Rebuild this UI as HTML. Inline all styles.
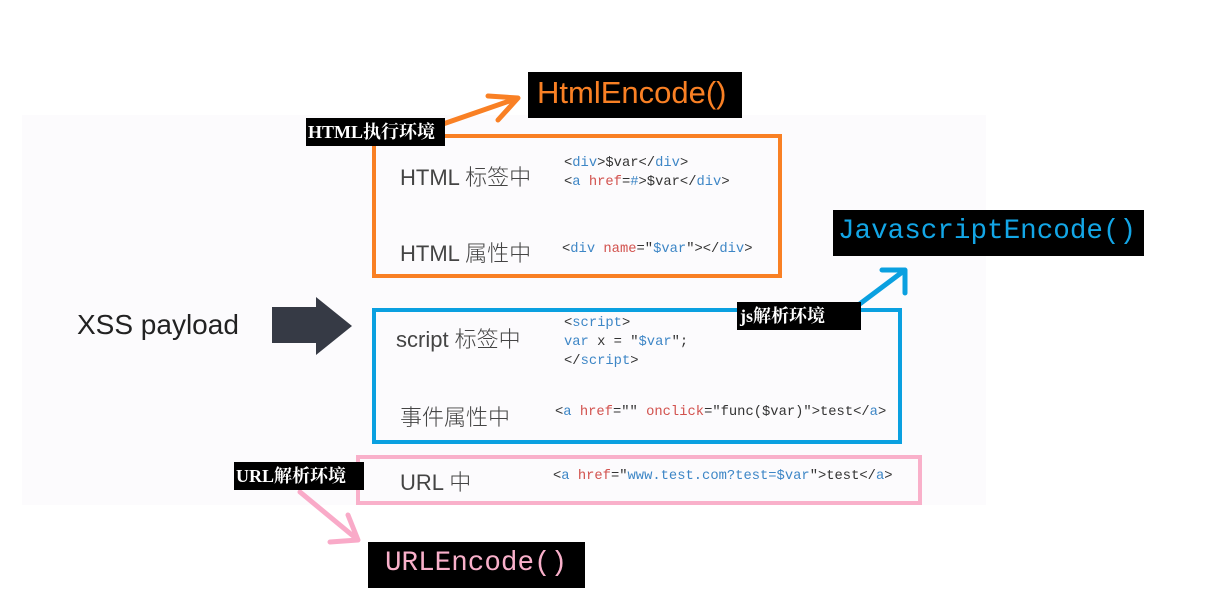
<!DOCTYPE html>
<html><head><meta charset="utf-8"><style>
body{margin:0;width:1206px;height:604px;background:#fff;position:relative;overflow:hidden;font-family:"Liberation Sans","Noto Sans CJK SC",sans-serif}
.a{position:absolute}
.panel{left:22px;top:115px;width:964px;height:390px;background:#fcfbfd}
.blk{background:#000;position:absolute}
.lbl{color:#fff;font-family:"Liberation Serif","Noto Serif CJK SC",serif;font-weight:bold;font-size:18px;line-height:28px;white-space:nowrap}
.hw{font-family:"Liberation Sans","Noto Sans CJK SC",sans-serif;color:#444;font-size:22px;font-weight:300;white-space:nowrap}
.code{font-family:"Liberation Mono","DejaVu Sans Mono",monospace;font-size:13.8px;color:#333;white-space:pre;line-height:19px}
.b{color:#3d86c6}.r{color:#d2524e}
.enc{font-family:"Liberation Mono",monospace;font-size:27.6px;line-height:38px}
</style></head><body>
<div class="a panel"></div>

<div class="a" style="left:77px;top:309px;font-size:28px;color:#222">XSS payload</div>
<svg class="a" style="left:0;top:0" width="1206" height="604">
<polygon points="272,307 316,307 316,297 352,326 316,355 316,343 272,343" fill="#363a45"/>
<g fill="none" stroke-width="5" stroke-linecap="round" stroke-linejoin="round">
<path d="M443,124 L518,98 M488,96 L518,98 L498,120" stroke="#f98024"/>
<path d="M857,306 L905,270 M882,270 L905,270 L905,293" stroke="#0aa0e0"/>
<path d="M300,492 L358,540 M330,542 L358,540 L348,515" stroke="#f9aac8"/>
</g>
</svg>

<div class="a" style="left:372px;top:134px;width:402px;height:136px;border:4px solid #f98024"></div>
<div class="a" style="left:372px;top:308px;width:522px;height:128px;border:4px solid #0aa0e0"></div>
<div class="a" style="left:356px;top:455px;width:558px;height:42px;border:4px solid #f9b0ca"></div>

<div class="blk" style="left:528px;top:72px;width:214px;height:46px"></div>
<div class="a" style="left:537px;top:74px;font-size:31px;color:#f98024;line-height:38px">HtmlEncode()</div>
<div class="blk" style="left:833px;top:210px;width:311px;height:46px"></div>
<div class="a enc" style="left:838px;top:213px;color:#13a6e6">JavascriptEncode()</div>
<div class="blk" style="left:368px;top:542px;width:217px;height:46px"></div>
<div class="a enc" style="left:385px;top:545px;color:#f9b0ca">URLEncode()</div>

<div class="blk lbl" style="left:306px;top:118px;width:137px;padding-left:2px">HTML执行环境</div>
<div class="blk lbl" style="left:737px;top:302px;width:121px;padding-left:3px">js解析环境</div>
<div class="blk lbl" style="left:234px;top:462px;width:128px;padding-left:2px">URL解析环境</div>

<div class="a hw" style="left:400px;top:160px">HTML 标签中</div>
<div class="a hw" style="left:400px;top:236px">HTML 属性中</div>
<div class="a hw" style="left:396px;top:322px">script 标签中</div>
<div class="a hw" style="left:400px;top:400px">事件属性中</div>
<div class="a hw" style="left:400px;top:465px">URL 中</div>

<div class="a code" style="left:564px;top:154px">&lt;<span class="b">div</span>&gt;$var&lt;/<span class="b">div</span>&gt;
&lt;<span class="b">a</span> <span class="r">href</span>=<span class="b">#</span>&gt;$var&lt;/<span class="b">div</span>&gt;</div>
<div class="a code" style="left:562px;top:240px">&lt;<span class="b">div</span> <span class="r">name</span>="<span class="b">$var</span>"&gt;&lt;/<span class="b">div</span>&gt;</div>
<div class="a code" style="left:564px;top:314px">&lt;<span class="b">script</span>&gt;
<span class="b">var</span> x = "<span class="b">$var</span>";
&lt;/<span class="b">script</span>&gt;</div>
<div class="a code" style="left:555px;top:403px">&lt;<span class="b">a</span> <span class="r">href</span>="" <span class="r">onclick</span>="func($var)"&gt;test&lt;/<span class="b">a</span>&gt;</div>
<div class="a code" style="left:553px;top:467px">&lt;<span class="b">a</span> <span class="r">href</span>="<span class="b">www.test.com?test=$var</span>"&gt;test&lt;/<span class="b">a</span>&gt;</div>
</body></html>
